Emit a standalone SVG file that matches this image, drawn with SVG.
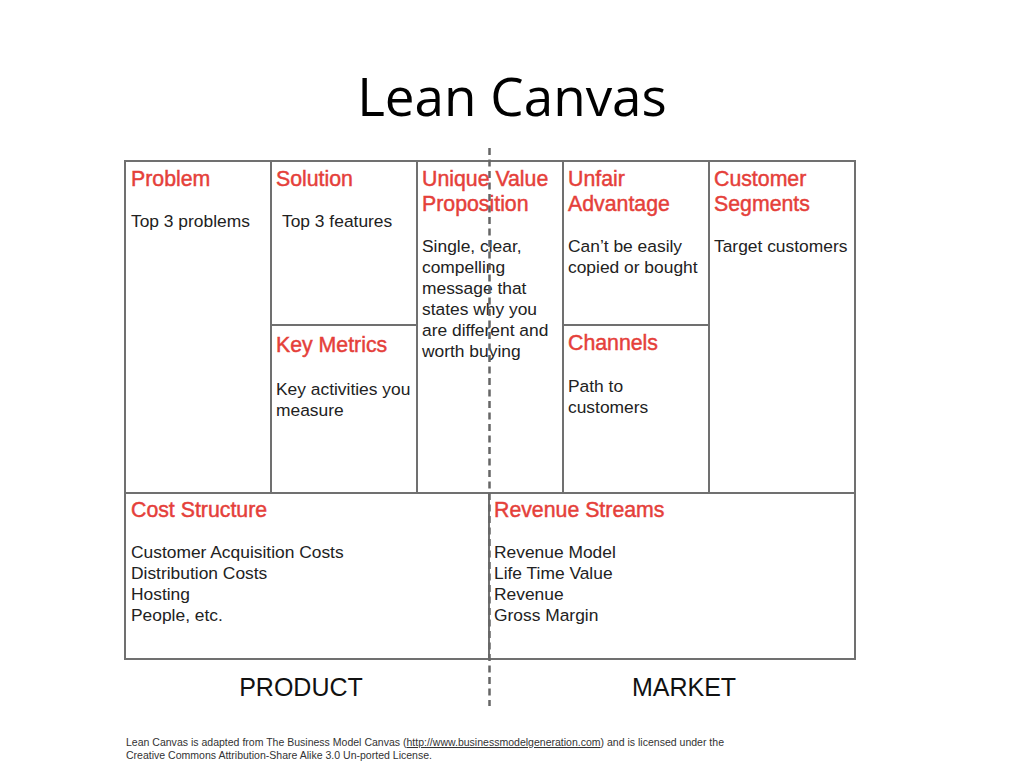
<svg xmlns="http://www.w3.org/2000/svg" width="1024" height="768" viewBox="0 0 1024 768">
<style>
.box{fill:#fff;stroke:#707070;stroke-width:2}
.h{font-family:"Liberation Sans",Arial,sans-serif;font-size:21.3px;fill:#e5403a;stroke:#e5403a;stroke-width:0.45}
.b{font-family:"Liberation Sans",Arial,sans-serif;font-size:17.4px;fill:#222}
.lbl{font-family:"Liberation Sans",Arial,sans-serif;font-size:25px;fill:#111;text-anchor:middle}
.ft{font-family:"Liberation Sans",Arial,sans-serif;font-size:10.2px;fill:#333}
</style>
<rect width="1024" height="768" fill="#fff"/>
<text x="512" y="116" text-anchor="middle" font-family="'Open Sans','Liberation Sans',sans-serif" font-size="53" fill="#000">Lean Canvas</text>

<g id="problem"><rect class="box" x="125" y="161" width="146" height="332"/>
<text class="h" x="131" y="186">Problem</text>
<text class="b" x="131" y="227">Top 3 problems</text></g>

<g id="solution"><rect class="box" x="271" y="161" width="146" height="164"/>
<text class="h" x="276" y="186">Solution</text>
<text class="b" x="282" y="227">Top 3 features</text></g>

<g id="key-metrics"><rect class="box" x="271" y="325" width="146" height="168"/>
<text class="h" x="276" y="352">Key Metrics</text>
<text class="b" x="276" y="395">Key activities you</text>
<text class="b" x="276" y="416">measure</text></g>

<g id="uvp"><rect class="box" x="417" y="161" width="146" height="332"/>
<text class="h" x="422" y="186">Unique Value</text>
<text class="h" x="422" y="211">Proposition</text>
<text class="b" x="422" y="252">Single, clear,</text>
<text class="b" x="422" y="273">compelling</text>
<text class="b" x="422" y="294">message that</text>
<text class="b" x="422" y="315">states why you</text>
<text class="b" x="422" y="336">are different and</text>
<text class="b" x="422" y="357">worth buying</text></g>

<g id="unfair-advantage"><rect class="box" x="563" y="161" width="146" height="164"/>
<text class="h" x="568" y="186">Unfair</text>
<text class="h" x="568" y="211">Advantage</text>
<text class="b" x="568" y="252">Can’t be easily</text>
<text class="b" x="568" y="273">copied or bought</text></g>

<g id="channels"><rect class="box" x="563" y="325" width="146" height="168"/>
<text class="h" x="568" y="350">Channels</text>
<text class="b" x="568" y="392">Path to</text>
<text class="b" x="568" y="413">customers</text></g>

<g id="customer-segments"><rect class="box" x="709" y="161" width="146" height="332"/>
<text class="h" x="714" y="186">Customer</text>
<text class="h" x="714" y="211">Segments</text>
<text class="b" x="714" y="252">Target customers</text></g>

<g id="cost-structure"><rect class="box" x="125" y="493" width="364" height="166"/>
<text class="h" x="131" y="517">Cost Structure</text>
<text class="b" x="131" y="558">Customer Acquisition Costs</text>
<text class="b" x="131" y="579">Distribution Costs</text>
<text class="b" x="131" y="600">Hosting</text>
<text class="b" x="131" y="621">People, etc.</text></g>

<g id="revenue-streams"><rect class="box" x="489" y="493" width="366" height="166"/>
<text class="h" x="494" y="517">Revenue Streams</text>
<text class="b" x="494" y="558">Revenue Model</text>
<text class="b" x="494" y="579">Life Time Value</text>
<text class="b" x="494" y="600">Revenue</text>
<text class="b" x="494" y="621">Gross Margin</text></g>

<g id="connectors">
<line x1="489.5" y1="148" x2="489.5" y2="706" stroke="#666" stroke-width="2.5" stroke-dasharray="7 4.5"/>
</g>

<g id="labels">
<text class="lbl" x="301" y="696">PRODUCT</text>
<text class="lbl" x="684" y="696">MARKET</text>
</g>

<g id="footer">
<text class="ft" x="126" y="746" textLength="598" lengthAdjust="spacingAndGlyphs">Lean Canvas is adapted from The Business Model Canvas (<tspan text-decoration="underline">http://www.businessmodelgeneration.com</tspan>) and is licensed under the</text>
<text class="ft" x="126" y="759" textLength="306" lengthAdjust="spacingAndGlyphs">Creative Commons Attribution-Share Alike 3.0 Un-ported License.</text>
</g>
</svg>
